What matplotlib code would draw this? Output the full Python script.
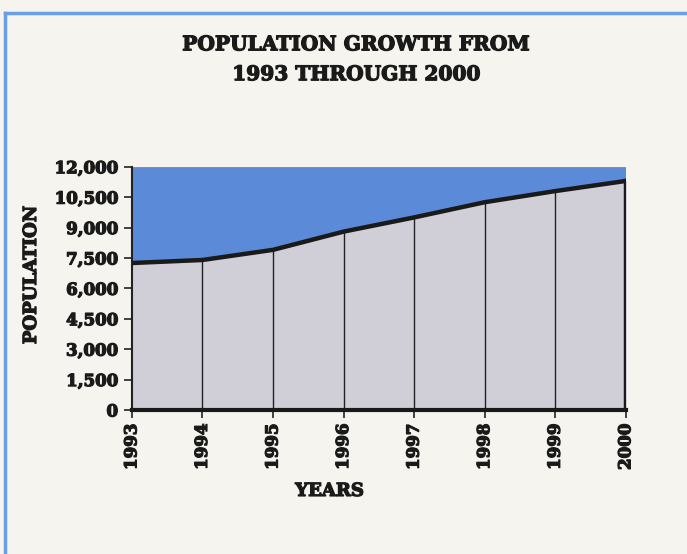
import matplotlib.pyplot as plt
import matplotlib.patheffects as pe
from matplotlib.lines import Line2D

# poblacion anual
anios = [1993, 1994, 1995, 1996, 1997, 1998, 1999, 2000]
poblacion = [7250, 7400, 7900, 8800, 9500, 10250, 10800, 11300]
marcas_y = [0, 1500, 3000, 4500, 6000, 7500, 9000, 10500, 12000]

fondo = '#f5f4ef'
azul = '#5b8bd8'
gris = '#d0ced7'
fuente = 'DejaVu Serif'
# trazo extra para que las letras salgan mas gruesas
grueso = [pe.withStroke(linewidth=0.9, foreground='#1a1a1a')]

fig = plt.figure(figsize=(6.87, 5.54), dpi=100, facecolor=fondo)
ax = fig.add_axes([0.192, 0.260, 0.719, 0.439])
ax.set_facecolor(azul)

# area bajo la curva y lineas verticales por anio
ax.fill_between(anios, 0, poblacion, color=gris, zorder=2)
ax.vlines(anios[1:-1], 0, poblacion[1:-1], color='#222222', lw=1, zorder=3)
ax.plot(anios, poblacion, color='#1a1a1a', lw=3.2, solid_capstyle='projecting', zorder=4)
ax.plot([anios[-1], anios[-1]], [0, poblacion[-1]], color='#1a1a1a', lw=3.2, zorder=4)
ax.axhline(12000, color='#8a8f9a', lw=1, zorder=1)

ax.set_xlim(anios[0], anios[-1])
ax.set_ylim(0, 12000)
ax.set_xticks(anios)
ax.set_xticklabels([str(a) for a in anios], rotation=90, fontsize=12,
                   fontweight='bold', family=fuente, color='#1a1a1a', path_effects=grueso)
ax.set_yticks(marcas_y)
ax.set_yticklabels([f'{v:,}' for v in marcas_y], fontsize=12,
                   fontweight='bold', family=fuente, color='#1a1a1a', path_effects=grueso)
ax.tick_params(axis='both', length=6, width=1.2, color='#222222', pad=4)

for lado in ['top', 'right']:
    ax.spines[lado].set_visible(False)
ax.spines['left'].set_linewidth(1.5)
ax.spines['left'].set_color('#222222')
ax.spines['bottom'].set_linewidth(3)
ax.spines['bottom'].set_color('#1a1a1a')
ax.spines['bottom'].set_zorder(5)

ax.set_ylabel('POPULATION', fontsize=13, fontweight='bold', family=fuente,
              color='#1a1a1a', path_effects=grueso)
ax.yaxis.set_label_coords(-0.186, 0.555)
ax.set_xlabel('YEARS', fontsize=13, fontweight='bold', family=fuente,
              color='#1a1a1a', path_effects=grueso)
ax.xaxis.set_label_coords(0.40, -0.296)

fig.text(0.519, 0.920, 'POPULATION GROWTH FROM', ha='center', va='center',
         fontsize=14.5, fontweight='bold', family=fuente, color='#1a1a1a', path_effects=grueso)
fig.text(0.519, 0.866, '1993 THROUGH 2000', ha='center', va='center',
         fontsize=14.5, fontweight='bold', family=fuente, color='#1a1a1a', path_effects=grueso)

# borde azul del recuadro
fig.add_artist(Line2D([0.007, 1.0], [0.976, 0.976], color='#6a9ee6', lw=2.5))
fig.add_artist(Line2D([0.007, 0.007], [0.0, 0.976], color='#6a9ee6', lw=2.5))

fig.savefig('out.png', dpi=100, facecolor=fondo)
